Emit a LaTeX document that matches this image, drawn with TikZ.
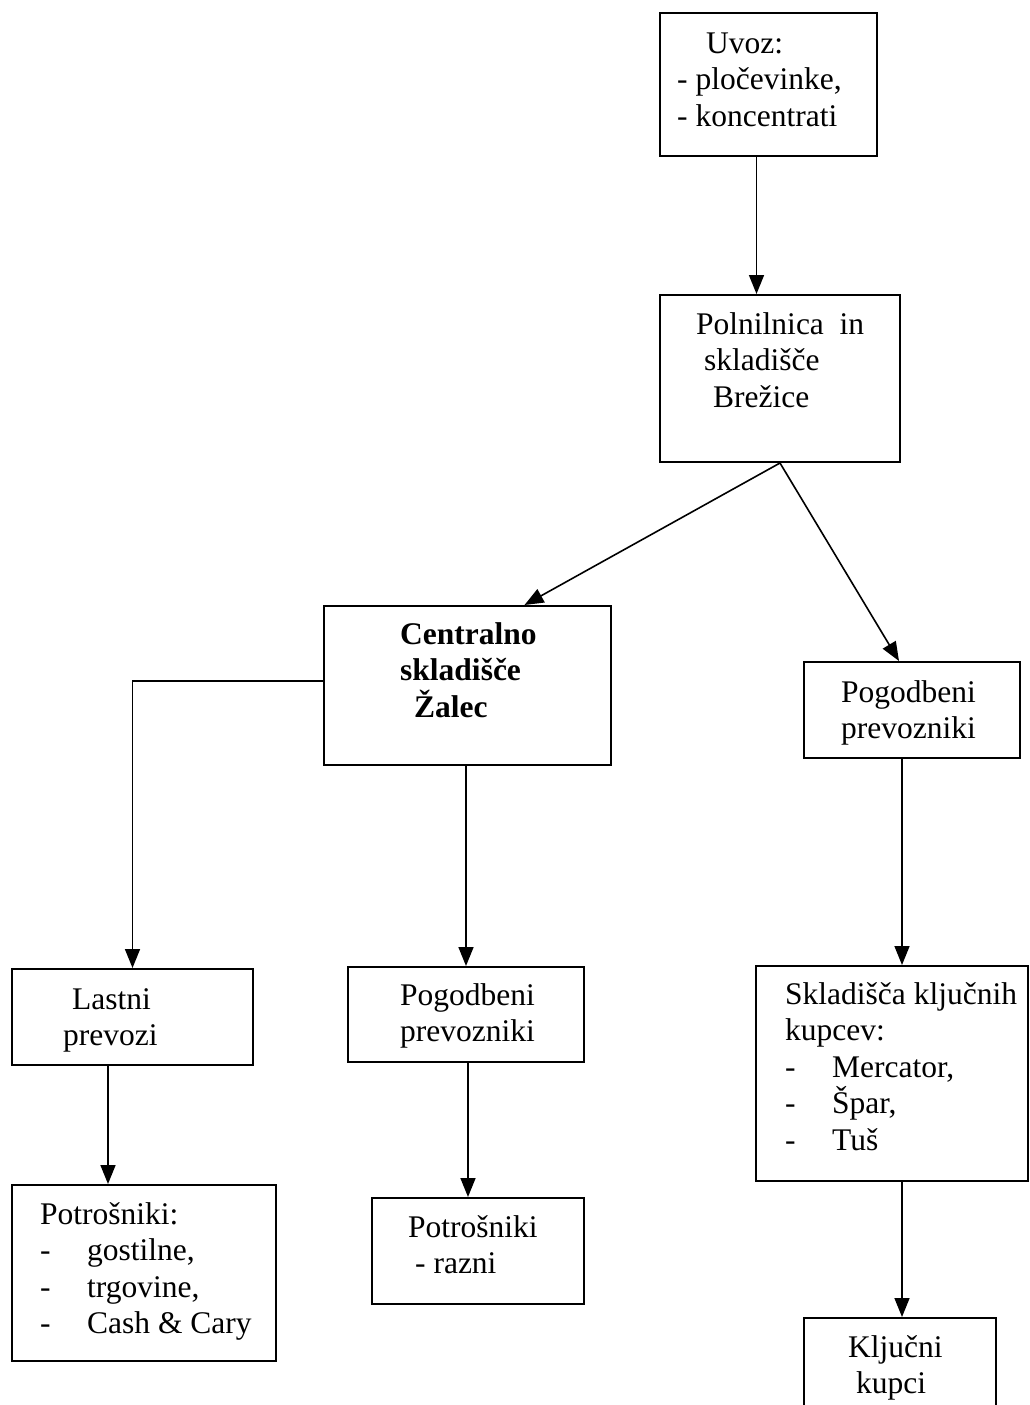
\documentclass[tikz,border=0pt]{standalone}
\usepackage{fontspec}
\setmainfont{Liberation Serif}
\usetikzlibrary{arrows.meta}
\newcommand\txtlines[1]{\vtop{\baselineskip=36.6pt\halign{##\hfil\cr#1\crcr}}}
\newcommand\dashitem[1]{\makebox[47pt][l]{-}#1}
\begin{document}
\begin{tikzpicture}[x=1pt,y=-1pt,
  box/.style={draw, line width=2pt, rectangle, inner sep=0pt, anchor=north west},
  txt/.style={inner sep=0pt, anchor=base west, font=\fontsize{31.5}{36.6}\selectfont},
  arr/.style={-{Triangle[length=19pt,width=15pt]}, line width=1.6pt}]
\clip (0,0) rectangle (1030,1405);
\fill[white] (0,0) rectangle (1030,1405);
% boxes
\node[box, minimum width=217pt, minimum height=143pt] (uvoz) at (659,12) {};
\node[box, minimum width=240pt, minimum height=167pt] (poln) at (659,294) {};
\node[box, minimum width=287pt, minimum height=159pt] (cent) at (323,605) {};
\node[box, minimum width=216pt, minimum height=96pt] (pr) at (803,661) {};
\node[box, minimum width=241pt, minimum height=96pt] (lastni) at (11,968) {};
\node[box, minimum width=236pt, minimum height=95pt] (pm) at (347,966) {};
\node[box, minimum width=264pt, minimum height=176pt] (potl) at (11,1184) {};
\node[box, minimum width=212pt, minimum height=106pt] (potr) at (371,1197) {};
\node[box, minimum width=272pt, minimum height=215pt] (skl) at (755,965) {};
\node[box, minimum width=192pt, minimum height=120pt] (klj) at (803,1317) {};
% texts
\node[txt] (tuvoz) at (677,53) {\txtlines{\hspace*{29pt}Uvoz:\cr - pločevinke,\cr - koncentrati}};
\node[txt] (tpoln) at (696,334) {\txtlines{Polnilnica\ \ in\cr \hspace*{8pt}skladišče\cr \hspace*{17pt}Brežice}};
\node[txt, font=\fontsize{31.5}{36.6}\selectfont\bfseries] (tcent) at (400,644) {\txtlines{Centralno\cr skladišče\cr \hspace*{14pt}Žalec}};
\node[txt] (tpr) at (841,702) {\txtlines{Pogodbeni\cr prevozniki}};
\node[txt] (tlastni) at (63,1009) {\txtlines{\hspace*{9pt}Lastni\cr prevozi}};
\node[txt] (tpm) at (400,1005) {\txtlines{Pogodbeni\cr prevozniki}};
\node[txt] (tskl) at (785,1004) {\txtlines{Skladišča ključnih\cr kupcev:\cr \dashitem{Mercator,}\cr \dashitem{Špar,}\cr \dashitem{Tuš}}};
\node[txt] (tklj) at (848,1357) {\txtlines{Ključni\cr \hspace*{8pt}kupci}};
\node[txt] (tpotr) at (408,1237) {\txtlines{Potrošniki\cr \hspace*{7pt}- razni}};
\node[txt] (tpotl) at (40,1224) {\txtlines{Potrošniki:\cr \dashitem{gostilne,}\cr \dashitem{trgovine,}\cr \dashitem{Cash \& Cary}}};
% connectors
\draw[arr] ([xshift=-12pt]uvoz.south) -- ([xshift=-12pt]uvoz.south |- poln.north);
\draw[arr] (poln.south) -- ([xshift=57pt]cent.north);
\draw[arr] (poln.south) -- ([xshift=-13pt]pr.north);
\draw[arr] ([yshift=4.5pt]cent.west) -| (lastni.north);
\draw[arr] ([xshift=-1.5pt]cent.south) -- ([xshift=-1.5pt]cent.south |- pm.north);
\draw[arr] ([xshift=-10pt]pr.south) -- ([xshift=-10pt]pr.south |- skl.north);
\draw[arr] ([xshift=-24.5pt]lastni.south) -- ([xshift=-24.5pt]lastni.south |- potl.north);
\draw[arr] ([xshift=2pt]pm.south) -- ([xshift=2pt]pm.south |- potr.north);
\draw[arr] ([xshift=10pt]skl.south) -- ([xshift=10pt]skl.south |- klj.north);
\end{tikzpicture}
\end{document}
